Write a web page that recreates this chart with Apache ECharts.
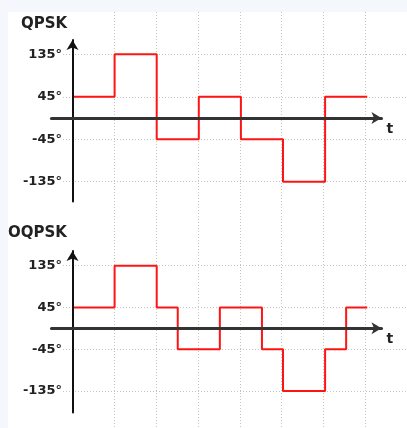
<!DOCTYPE html>
<html>
<head>
<meta charset="utf-8">
<script src="https://cdn.jsdelivr.net/npm/echarts@6/dist/echarts.min.js"></script>
<style>
	html, body { margin: 0; padding: 0; background: #f4f8fc; }
	.sheet { position: absolute; left: 8px; top: 12px; right: 0; bottom: 0; background: #fff; }
	#chart { position: absolute; left: 0; top: 0; width: 407px; height: 428px; }
</style>
</head>
<body>
<div class="sheet"></div>
<div id="chart"></div>
<script>
// phase tick labels (degrees)
const phaseTicks = [-135, -45, 45, 135];

// QPSK: symbol edges (in symbol periods) and the phase held in each symbol
const qpskEdges = [0, 1, 2, 3, 4, 5, 6, 7];
const qpskPhase = [45, 135, -45, 45, -45, -135, 45];

// OQPSK: half-symbol offset transitions
const oqpskEdges = [0, 1, 2, 2.5, 3.5, 4.5, 5, 6, 6.5, 7];
const oqpskPhase = [45, 135, 45, -45, 45, -45, -135, -45, 45];

// layout (pixels)
const X0 = 72.5, UNIT = 42.1;
const panels = [
	{ name: "QPSK", edges: qpskEdges, phase: qpskPhase, zero: 118, pxDeg: 0.472, top: 40, bottom: 201.5, titleLeft: 21, titleTop: 17 },
	{ name: "OQPSK", edges: oqpskEdges, phase: oqpskPhase, zero: 328.3, pxDeg: 0.464, top: 251, bottom: 412.5, titleLeft: 8, titleTop: 226 }
];

function steps(edges, phase) {
	let pts = phase.map((p, i) => [edges[i], p]);
	pts.push([edges[edges.length - 1], phase[phase.length - 1]]);
	return pts;
}

const font = "DejaVu Sans";
const dotted = { color: "#c4c4c4", type: [1, 2], width: 1 };

let grid = [], xAxis = [], yAxis = [], series = [], title = [];

// background vertical dotted lines
grid.push({ left: X0 + UNIT, top: 12, width: UNIT * 7 + 1, bottom: 0 });
xAxis.push({
	gridIndex: 0, type: "value", min: 1, max: 8, interval: 1,
	axisLine: { show: false }, axisTick: { show: false }, axisLabel: { show: false },
	splitLine: { show: true, lineStyle: dotted }
});
yAxis.push({ gridIndex: 0, type: "value", show: false });

panels.forEach((p) => {
	let ymax = (p.zero - p.top) / p.pxDeg;
	let ymin = -(p.bottom - p.zero) / p.pxDeg;
	let h = p.bottom - p.top;

	// signal grid: labels, horizontal dotted lines, red trace
	let gi = grid.length;
	grid.push({ left: 63, top: p.top, width: 407 - 63, height: h });
	xAxis.push({
		gridIndex: gi, type: "value", min: (63 - X0) / UNIT, max: (407 - X0) / UNIT,
		show: false
	});
	yAxis.push({
		gridIndex: gi, type: "value", min: ymin, max: ymax,
		axisLine: { show: false },
		axisTick: { show: false, customValues: phaseTicks },
		axisLabel: {
			customValues: phaseTicks, margin: 1,
			formatter: (v) => v + "°",
			color: "#222", fontFamily: font, fontWeight: "bold", fontSize: 13
		},
		splitLine: { show: true, lineStyle: dotted }
	});
	series.push({
		type: "line", xAxisIndex: gi, yAxisIndex: gi,
		step: "end", showSymbol: false, z: 1,
		lineStyle: { color: "#ff1414", width: 2 },
		data: steps(p.edges, p.phase)
	});

	// axes grid: arrows
	let ai = grid.length;
	grid.push({ left: X0 - UNIT * 0.5, top: p.top, width: 381.5 - (X0 - UNIT * 0.5), height: h });
	xAxis.push({
		gridIndex: ai, type: "value", min: -0.5, max: (381.5 - X0) / UNIT, z: 5,
		axisLine: { onZero: true, symbol: ["none", "arrow"], symbolSize: [9, 10], lineStyle: { color: "#333", width: 3 } },
		axisTick: { show: false }, axisLabel: { show: false }, splitLine: { show: false },
		name: "t", nameLocation: "end", nameGap: 5,
		nameTextStyle: { color: "#222", fontFamily: font, fontWeight: "bold", fontSize: 14, verticalAlign: "top", padding: [4, 0, 0, 0] }
	});
	yAxis.push({
		gridIndex: ai, type: "value", min: ymin, max: ymax, z: 5,
		axisLine: { onZero: true, symbol: ["none", "arrow"], symbolSize: [9, 10], lineStyle: { color: "#111", width: 2 } },
		axisTick: { show: false }, axisLabel: { show: false }, splitLine: { show: false }
	});

	title.push({
		text: p.name, left: p.titleLeft, top: p.titleTop, padding: 0,
		textStyle: { color: "#222", fontFamily: font, fontWeight: "bold", fontSize: 15 }
	});
});

let myChart = echarts.init(document.getElementById("chart"));
myChart.setOption({
	animation: false,
	title: title,
	grid: grid,
	xAxis: xAxis,
	yAxis: yAxis,
	series: series
});
</script>
</body>
</html>
